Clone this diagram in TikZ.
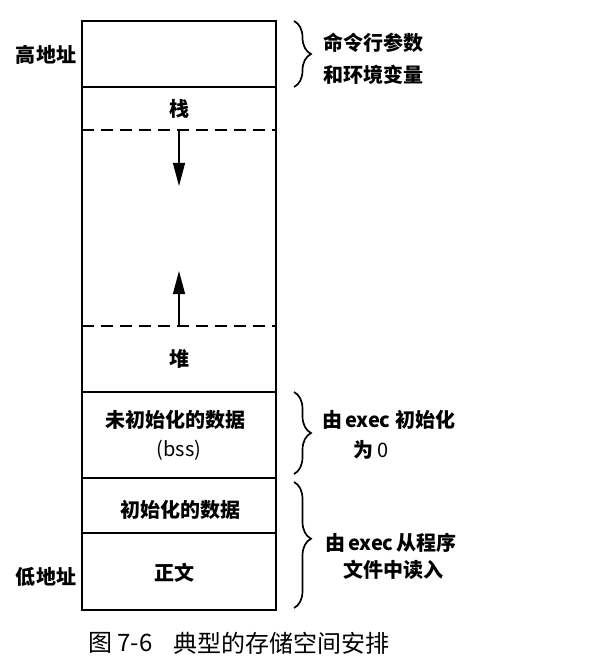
\documentclass[tikz,border=0pt]{standalone}
\usepackage{fontspec}
\setmainfont{Noto Sans CJK SC}
\usetikzlibrary{arrows.meta,decorations.pathreplacing}
\begin{document}
\begin{tikzpicture}[x=1pt,y=-1pt,
  frame/.style={line width=1.6pt},
  dash line/.style={line width=1.6pt,dash pattern=on 12pt off 7pt},
  arr/.style={line width=1.2pt,-{Triangle[length=23pt,width=12pt]}},
  lab/.style={font=\fontsize{20}{24}\selectfont\bfseries,inner sep=0pt},
  labw/.style={lab,anchor=west},
  brc/.style={line width=1.7pt,decorate,decoration={brace,amplitude=17pt}},
  captext/.style={font=\fontsize{24}{28}\selectfont,inner sep=0pt,anchor=west}]
\useasboundingbox (0,0) rectangle (598,668);
% outer frame
\coordinate (tl) at (82,21);
\coordinate (br) at (276,610);
\draw[frame] (tl) rectangle (br);
% separators
\coordinate (l1) at (82,87);  \coordinate (r1) at (276,87);
\coordinate (l2) at (82,130); \coordinate (r2) at (276,130);
\coordinate (l3) at (82,326); \coordinate (r3) at (276,326);
\coordinate (l4) at (82,392); \coordinate (r4) at (276,392);
\coordinate (l5) at (82,478); \coordinate (r5) at (276,478);
\coordinate (l6) at (82,533); \coordinate (r6) at (276,533);
\draw[frame] (l1) -- (r1);
\draw[dash line] (l2) -- (r2);
\draw[dash line] (l3) -- (r3);
\draw[frame] (l4) -- (r4);
\draw[line width=2pt] (l5) -- (r5);
\draw[frame] (l6) -- (r6);
% arrows
\coordinate (a1s) at (179,130); \coordinate (a1e) at (179,186);
\coordinate (a2s) at (179,326); \coordinate (a2e) at (179,271);
\draw[arr] (a1s) -- (a1e);
\draw[arr] (a2s) -- (a2e);
% region labels
\node[lab] (hi) at (46,55) {高地址};
\node[lab] (stack) at (179,109) {栈};
\node[lab] (heap) at (179,359) {堆};
\node[lab] (bss1) at (175,420) {未初始化的数据};
\node[font=\fontsize{20}{24}\selectfont,inner sep=0pt] (bss2) at (179,450) {(bss)};
\node[lab] (data) at (180,510) {初始化的数据};
\node[lab] (text) at (174,573) {正文};
\node[lab] (lo) at (46,577) {低地址};
% braces
\coordinate (b1s) at (294,21);  \coordinate (b1e) at (294,87);
\coordinate (b2s) at (294,392); \coordinate (b2e) at (294,474);
\coordinate (b3s) at (294,482); \coordinate (b3e) at (294,608);
\draw[brc] (b1s) -- (b1e);
\draw[brc] (b2s) -- (b2e);
\draw[brc,decoration={brace,amplitude=17pt,aspect=0.45}] (b3s) -- (b3e);
% brace labels
\node[labw] (args1) at (323,43) {命令行参数};
\node[labw] (args2) at (323,75) {和环境变量};
\node[labw] (z1) at (322,420) {由\hspace{3pt}exec\hspace{5pt}初始化};
\node[labw] (z2) at (353,450) {为 {\mdseries 0}};
\node[labw] (rd1) at (325,543) {由\hspace{3pt}exec\hspace{3pt}从程序};
\node[labw] (rd2) at (343,570) {文件中读入};
% caption
\node[captext] (cap1) at (88,643) {图 7-6};
\node[captext] (cap2) at (173,643) {典型的存储空间安排};
\end{tikzpicture}
\end{document}
